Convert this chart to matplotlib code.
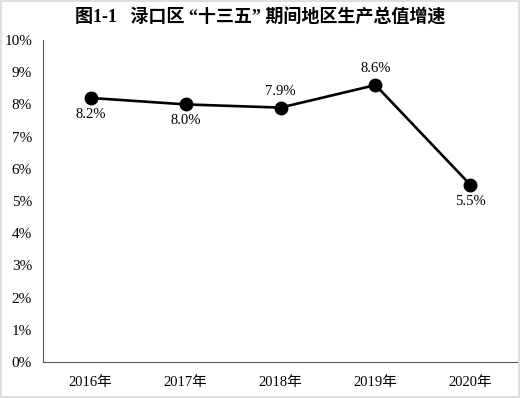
import matplotlib
matplotlib.use('Agg')
import matplotlib.pyplot as plt
from matplotlib.patches import Rectangle

# data
years = ['2016年', '2017年', '2018年', '2019年', '2020年']
growth = [8.2, 8.0, 7.9, 8.6, 5.5]
label_pos = ['below', 'below', 'above', 'above', 'below']
yticks = [0, 1, 2, 3, 4, 5, 6, 7, 8, 9, 10]

plt.rcParams['font.family'] = ['Liberation Serif', 'Noto Sans CJK SC', 'DejaVu Sans']

fig = plt.figure(figsize=(5.2, 3.98), dpi=100)
fig.patches.append(Rectangle((0.002, 0.002), 0.996, 0.996, transform=fig.transFigure,
                             fill=False, edgecolor='#d9d9d9', linewidth=1.2))

ax = fig.add_axes([0.083, 0.0905, 0.913, 0.809])
x = list(range(len(years)))
ax.plot(x, growth, color='black', linewidth=1.9, marker='o', markersize=9)

for xi, v, pos in zip(x, growth, label_pos):
    if pos == 'above':
        ax.annotate(f'{v:.1f}%', (xi, v), xytext=(0, 7), textcoords='offset points',
                    ha='center', va='bottom', fontsize=10.5)
    else:
        ax.annotate(f'{v:.1f}%', (xi, v), xytext=(0, -7), textcoords='offset points',
                    ha='center', va='top', fontsize=10.5)

ax.set_xlim(-0.5, 4.5)
ax.set_ylim(0, 10)
ax.set_yticks(yticks)
ax.set_yticklabels([f'{t}%' for t in yticks], fontsize=11)
ax.set_xticks(x)
ax.set_xticklabels(years, fontsize=10.5)
ax.tick_params(axis='both', length=0, pad=8)
ax.tick_params(axis='x', pad=10)
ax.spines['top'].set_visible(False)
ax.spines['right'].set_visible(False)
ax.spines['left'].set_color('#595959')
ax.spines['bottom'].set_color('#595959')

fig.text(0.5, 0.955, '图1-1   渌口区 “十三五” 期间地区生产总值增速', ha='center', va='center',
         fontsize=13, fontweight='bold')

fig.savefig('out.png', dpi=100)
